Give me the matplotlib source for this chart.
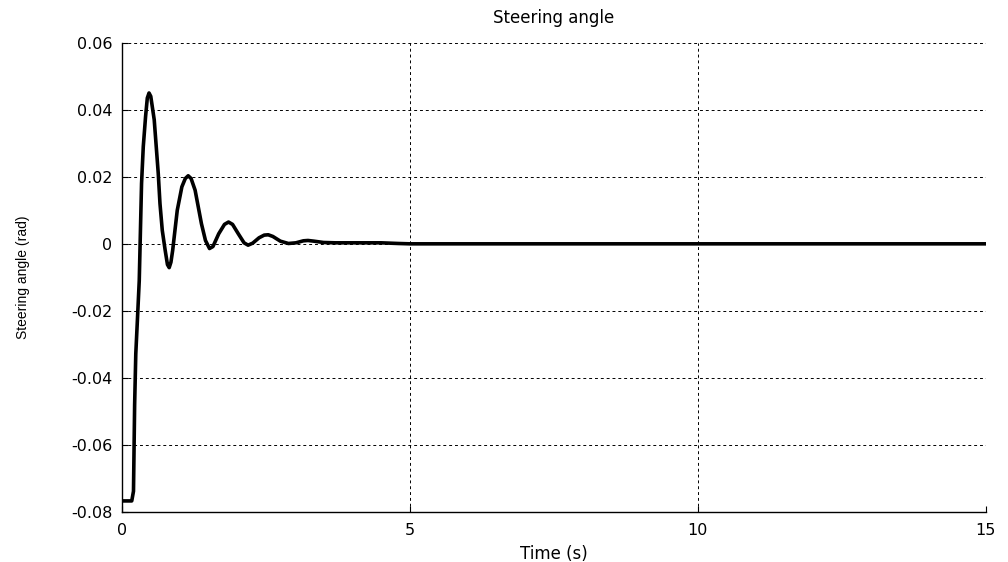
# steering angle response plot
import matplotlib.pyplot as plt

plt.rcParams["font.family"] = ["DejaVu Sans"]

# time (s) and steering angle (rad)
time_s = [0, 0.17, 0.20, 0.22, 0.24, 0.27, 0.30, 0.34, 0.37, 0.41, 0.44, 0.47,
          0.50, 0.56, 0.63, 0.66, 0.70, 0.75, 0.79, 0.82, 0.85, 0.88, 0.96,
          1.04, 1.10, 1.15, 1.20, 1.27, 1.38, 1.45, 1.52, 1.58, 1.68, 1.78,
          1.85, 1.92, 2.02, 2.12, 2.19, 2.27, 2.38, 2.47, 2.54, 2.62, 2.75,
          2.89, 3.02, 3.15, 3.23, 3.33, 3.50, 3.70, 4.0, 4.5, 4.8, 5.0, 15]
angle_rad = [-0.0767, -0.0767, -0.0738, -0.048, -0.0328, -0.022, -0.011,
             0.018, 0.029, 0.038, 0.0435, 0.045, 0.044, 0.037, 0.021, 0.012,
             0.004, -0.0019, -0.0062, -0.0071, -0.0055, -0.002, 0.010, 0.017,
             0.0195, 0.0203, 0.0195, 0.016, 0.006, 0.001, -0.0014, -0.0008,
             0.003, 0.0058, 0.0065, 0.0058, 0.003, 0.0003, -0.0004, 0.0002,
             0.0018, 0.0026, 0.0027, 0.0022, 0.0008, 0.0001, 0.0003, 0.0009,
             0.001, 0.0008, 0.0004, 0.0003, 0.0003, 0.0003, 0.0001, 0, 0]

x_ticks = [0, 5, 10, 15]
y_ticks = [-0.08, -0.06, -0.04, -0.02, 0, 0.02, 0.04, 0.06]
y_tick_labels = ["-0.08", "-0.06", "-0.04", "-0.02", "0", "0.02", "0.04", "0.06"]


def main():
    fig = plt.figure(figsize=(10.08, 5.62), dpi=100)
    ax = fig.add_axes([0.121, 0.089, 0.857, 0.835])
    ax.plot(time_s, angle_rad, color="black", linewidth=2.6, solid_joinstyle="round")
    ax.set_xlim(0, 15)
    ax.set_ylim(-0.08, 0.06)
    ax.set_xticks(x_ticks)
    ax.set_xticklabels([str(t) for t in x_ticks])
    ax.set_yticks(y_ticks)
    ax.set_yticklabels(y_tick_labels)
    ax.tick_params(direction="in", length=4, labelsize=11.5, colors="black")
    ax.tick_params(axis="x", pad=8)
    ax.tick_params(axis="y", pad=7)
    ax.grid(True, color="black", linestyle=(0, (3, 3)), linewidth=0.7)
    ax.spines["top"].set_visible(False)
    ax.spines["right"].set_visible(False)
    for side in ["left", "bottom"]:
        ax.spines[side].set_linewidth(1.0)
    ax.set_title("Steering angle", fontsize=12, pad=14)
    ax.set_xlabel("Time (s)", fontsize=12, labelpad=5)
    ax.set_ylabel("Steering angle (rad)", fontsize=10,
                  family=["Liberation Sans", "DejaVu Sans"])
    ax.yaxis.set_label_coords(-0.107, 0.5)
    fig.savefig("out.png", dpi=100)
    plt.close(fig)


if __name__ == "__main__":
    main()
